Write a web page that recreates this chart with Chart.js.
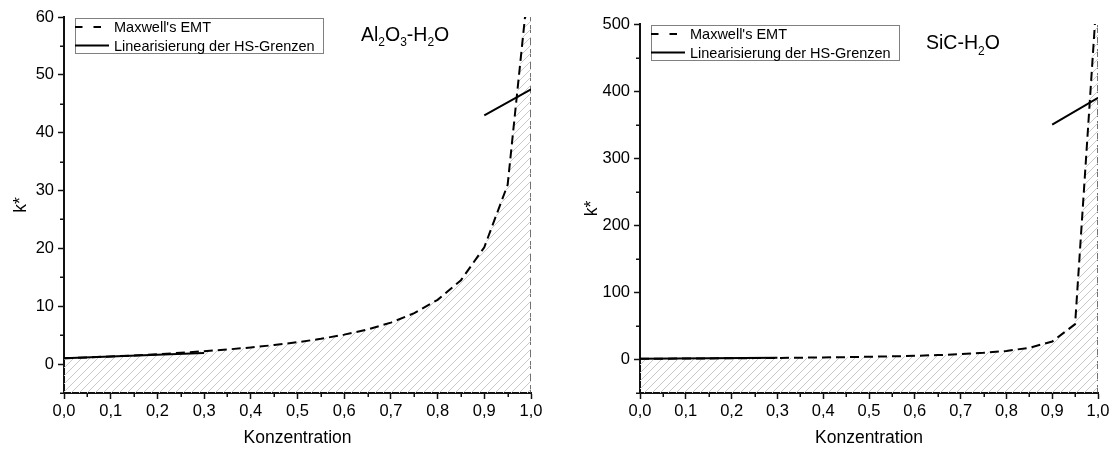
<!DOCTYPE html>
<html>
<head>
<meta charset="utf-8">
<script src="https://cdn.jsdelivr.net/npm/chart.js@4.4.1/dist/chart.umd.min.js"></script>
<style>
  html, body { margin: 0; padding: 0; background: #fff; }
  .panel { position: absolute; top: 0; width: 557px; height: 452px; }
  #left { left: 0; }
  #right { left: 557px; }
</style>
</head>
<body>
<div class="panel" id="left"><canvas id="chartAl"></canvas></div>
<div class="panel" id="right"><canvas id="chartSiC"></canvas></div>
<script>
'use strict'

// volume fraction used for the Maxwell curves
const concentration = [0, 0.05, 0.1, 0.15, 0.2, 0.25, 0.3, 0.35, 0.4, 0.45, 0.5,
  0.55, 0.6, 0.65, 0.7, 0.75, 0.8, 0.85, 0.9, 0.95, 1.0]

const maxwellAl = [1.0, 1.15, 1.32, 1.5, 1.71, 1.95, 2.22, 2.52, 2.87, 3.29, 3.78,
  4.36, 5.09, 5.99, 7.17, 8.8, 11.1, 14.5, 20.2, 31.0, 70]
const maxwellSiC = [1.0, 1.16, 1.33, 1.53, 1.75, 1.99, 2.28, 2.6, 2.98, 3.43, 3.97,
  4.63, 5.44, 6.49, 7.88, 9.82, 12.7, 17.4, 26.7, 52.6, 570]

// linearised HS bounds (two pieces, gap in between)
const hsX = [0, 0.3, 0.6, 0.9, 1.0]
const hsAl = [1.0, 1.9, null, 43.0, 47.5]
const hsSiC = [1.0, 2.5, null, 350, 390]

// dashed edge of the hatched region at x = 1
const edgeX = [1, 1]
const edgeAl = [-5, 60]
const edgeSiC = [-50, 500]

const xTicks = [0, 0.1, 0.2, 0.3, 0.4, 0.5, 0.6, 0.7, 0.8, 0.9, 1.0]
const xMinor = [0.05, 0.15, 0.25, 0.35, 0.45, 0.55, 0.65, 0.75, 0.85, 0.95]
const yTicksAl = [0, 10, 20, 30, 40, 50, 60]
const yMinorAl = [-5, 5, 15, 25, 35, 45, 55]
const yTicksSiC = [0, 100, 200, 300, 400, 500]
const yMinorSiC = [-50, 50, 150, 250, 350, 450]

Chart.defaults.font.family = '"Liberation Sans", Arial, sans-serif'
Chart.defaults.color = '#000'

const FONT = '"Liberation Sans", Arial, sans-serif'
const INK = '#111'

function zip(xs, ys) {
  return xs.map((x, i) => ({ x: x, y: ys[i] }))
}

function hatch(ctx) {
  const c = document.createElement('canvas')
  c.width = 8
  c.height = 8
  const g = c.getContext('2d')
  g.strokeStyle = '#c9c9c9'
  g.lineWidth = 1
  g.beginPath()
  g.moveTo(0, 8); g.lineTo(8, 0)
  g.moveTo(-1, 1); g.lineTo(1, -1)
  g.moveTo(7, 9); g.lineTo(9, 7)
  g.stroke()
  return ctx.createPattern(c, 'repeat')
}

// short minor ticks between the labelled ones
const minorTicks = {
  id: 'minorTicks',
  afterDraw(chart, args, opts) {
    const { ctx, chartArea, scales } = chart
    ctx.save()
    ctx.strokeStyle = INK
    ctx.lineWidth = 1.5
    ctx.beginPath()
    opts.x.forEach(v => {
      const px = Math.round(scales.x.getPixelForValue(v)) + 0.25
      ctx.moveTo(px, chartArea.bottom)
      ctx.lineTo(px, chartArea.bottom + 4)
    })
    opts.y.forEach(v => {
      const py = Math.round(scales.y.getPixelForValue(v)) + 0.25
      ctx.moveTo(chartArea.left, py)
      ctx.lineTo(chartArea.left - 4, py)
    })
    ctx.stroke()
    ctx.restore()
  }
}

// boxed legend inside the plot, top left
const boxLegend = {
  id: 'boxLegend',
  afterDraw(chart, args, opts) {
    const { ctx, chartArea } = chart
    const x = chartArea.left + opts.dx
    const y = chartArea.top + opts.dy
    ctx.save()
    ctx.fillStyle = '#fff'
    ctx.fillRect(x, y, 248, 35)
    ctx.strokeStyle = '#808080'
    ctx.lineWidth = 1
    ctx.strokeRect(x + 0.5, y + 0.5, 248, 35)
    chart.data.datasets.filter(d => d.label).forEach((d, i) => {
      const cy = y + 9 + i * 18.5
      ctx.strokeStyle = '#000'
      ctx.lineWidth = 2
      ctx.setLineDash(d.borderDash ? [7.5, 11] : [])
      ctx.beginPath()
      ctx.moveTo(x, cy)
      ctx.lineTo(x + 34, cy)
      ctx.stroke()
      ctx.setLineDash([])
      ctx.fillStyle = '#000'
      ctx.font = '14.5px ' + FONT
      ctx.textBaseline = 'middle'
      ctx.fillText(d.label, x + 39, cy + 1)
    })
    ctx.restore()
  }
}

// chemical formula with subscripts
const formulaTitle = {
  id: 'formulaTitle',
  afterDraw(chart, args, opts) {
    const { ctx, chartArea } = chart
    let x = chartArea.left + opts.dx
    const base = chartArea.top + opts.dy
    ctx.save()
    ctx.fillStyle = '#000'
    ctx.textBaseline = 'alphabetic'
    opts.parts.forEach(([txt, sub]) => {
      ctx.font = (sub ? '12px ' : '19.5px ') + FONT
      ctx.fillText(txt, x, sub ? base + 5.5 : base)
      x += ctx.measureText(txt).width
    })
    ctx.restore()
  }
}

function makeChart(id, cfg) {
  const canvas = document.getElementById(id)
  const ctx = canvas.getContext('2d')
  return new Chart(canvas, {
    type: 'line',
    data: {
      datasets: [
        {
          label: "Maxwell's EMT",
          data: zip(concentration, cfg.maxwell),
          borderColor: '#000',
          borderWidth: 2,
          borderDash: [9, 5],
          pointRadius: 0,
          tension: 0,
          fill: 'start',
          backgroundColor: hatch(ctx),
          order: 1,
        },
        {
          label: 'Linearisierung der HS-Grenzen',
          data: zip(hsX, cfg.hs),
          borderColor: '#000',
          borderWidth: 2,
          pointRadius: 0,
          spanGaps: false,
          fill: false,
          order: 0,
        },
        {
          data: zip(edgeX, cfg.edge),
          borderColor: '#444',
          borderWidth: 1.5,
          borderDash: [8, 4],
          pointRadius: 0,
          fill: false,
          order: 2,
        },
      ],
    },
    options: {
      responsive: true,
      maintainAspectRatio: false,
      animation: false,
      layout: { padding: { left: 0, right: cfg.padRight, top: cfg.padTop, bottom: 0 } },
      plugins: {
        legend: { display: false },
        tooltip: { enabled: false },
        minorTicks: { x: xMinor, y: cfg.yMinor },
        boxLegend: { dx: 11, dy: 1 },
        formulaTitle: { parts: cfg.formula, dx: cfg.titleDx, dy: cfg.titleDy },
      },
      scales: {
        x: {
          type: 'linear',
          min: 0,
          max: 1,
          afterBuildTicks: s => { s.ticks = xTicks.map(v => ({ value: v })) },
          afterFit: s => { s.height = 59 },
          grid: { drawOnChartArea: false, tickLength: 6, tickWidth: 1.5, tickColor: INK },
          border: { color: INK, width: 2 },
          ticks: {
            autoSkip: false,
            maxRotation: 0,
            padding: 3,
            font: { size: 16.5 },
            callback: v => v.toFixed(1).replace('.', ','),
          },
          title: { display: true, text: 'Konzentration', font: { size: 17.5 }, padding: { top: 0, bottom: 3 } },
        },
        y: {
          type: 'linear',
          min: cfg.yMin,
          max: cfg.yMax,
          afterBuildTicks: s => { s.ticks = cfg.yTicks.map(v => ({ value: v })) },
          afterFit: s => { s.width = cfg.yWidth },
          grid: { drawOnChartArea: false, tickLength: 6, tickWidth: 1.5, tickColor: INK },
          border: { color: INK, width: 2 },
          ticks: { autoSkip: false, padding: 4, font: { size: 16.5 } },
          title: { display: true, text: 'k*', font: { size: 17.5 }, padding: { top: cfg.titlePad, bottom: 0 } },
        },
      },
    },
    plugins: [minorTicks, boxLegend, formulaTitle],
  })
}

makeChart('chartAl', {
  maxwell: maxwellAl,
  hs: hsAl,
  edge: edgeAl,
  yMin: -5,
  yMax: 60,
  yTicks: yTicksAl,
  yMinor: yMinorAl,
  yWidth: 64,
  padRight: 26,
  padTop: 17,
  titlePad: 11,
  formula: [['Al', 0], ['2', 1], ['O', 0], ['3', 1], ['-H', 0], ['2', 1], ['O', 0]],
  titleDx: 297,
  titleDy: 23.5,
})

makeChart('chartSiC', {
  maxwell: maxwellSiC,
  hs: hsSiC,
  edge: edgeSiC,
  yMin: -50,
  yMax: 500,
  yTicks: yTicksSiC,
  yMinor: yMinorSiC,
  yWidth: 83,
  padRight: 16,
  padTop: 24,
  titlePad: 25,
  formula: [['SiC-H', 0], ['2', 1], ['O', 0]],
  titleDx: 286,
  titleDy: 25,
})
</script>
</body>
</html>
